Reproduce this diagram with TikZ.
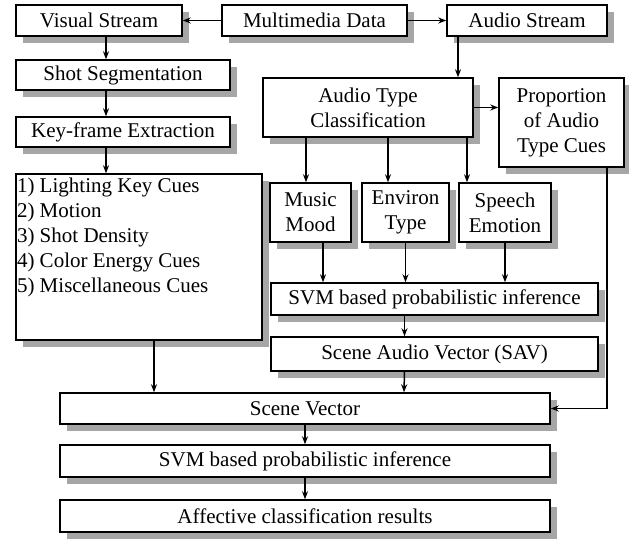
\documentclass[tikz,border=0pt]{standalone}
\usepackage{fontspec}
\setmainfont{Liberation Serif}
\usepackage{tikz}
\usetikzlibrary{arrows.meta}

\begin{document}
\begin{tikzpicture}[x=1pt, y=-1pt, line width=1.5pt,
    every node/.style={font=\fontsize{21}{25}\selectfont},
    blk/.style={draw, fill=white, inner sep=1pt, align=center},
    boxshadow/.style={draw=black!35, line width=7pt, line cap=butt},
    arr/.style={-{Stealth[length=8pt, width=6pt]}}]
    \useasboundingbox (0,0) rectangle (629,538);
    % shadows first (right and bottom strips), boxes on top
    \foreach \cx/\cy/\w/\h in {99/20.5/166/31, 314.5/20.5/185/31, 527/20.5/160/31,
        123/75/214/30, 123/132/214/30, 139/257/246/166, 368/107.5/210/59, 561.5/122.5/125/89,
        310.5/212.5/81/59, 405.5/212.5/87/59, 505/212.5/92/59, 434.5/299/327/32, 434.5/354/327/34,
        305/408.5/490/31, 305/461/490/32, 305/516/490/32}
      \draw[boxshadow] (\cx+\w/2+3.5, \cy-\h/2+7) -- (\cx+\w/2+3.5, \cy+\h/2+3.5) -- (\cx-\w/2+7, \cy+\h/2+3.5);
    % top row
    \node[blk, minimum width=166pt, minimum height=31pt] (vis) at (99,20.5) {Visual Stream};
    \node[blk, minimum width=185pt, minimum height=31pt] (mm) at (314.5,20.5) {Multimedia Data};
    \node[blk, minimum width=160pt, minimum height=31pt] (aud) at (527,20.5) {Audio Stream};
    % visual branch
    \node[blk, minimum width=214pt, minimum height=30pt] (shot) at (123,75) {Shot Segmentation};
    \node[blk, minimum width=214pt, minimum height=30pt] (key) at (123,132) {Key-frame Extraction};
    \node[blk, minimum width=246pt, minimum height=166pt] (cues) at (139,257) {};
    \node[anchor=north west, inner xsep=1pt, inner ysep=4pt, align=left] (cuestxt) at (cues.north west)
      {1) Lighting Key Cues\\2) Motion\\3) Shot Density\\4) Color Energy Cues\\5) Miscellaneous Cues};
    % audio branch
    \node[blk, minimum width=210pt, minimum height=59pt] (atc) at (368,107.5) {Audio Type\\Classification};
    \node[blk, minimum width=125pt, minimum height=89pt] (prop) at (561.5,122.5) {Proportion\\of Audio\\Type Cues};
    \node[blk, minimum width=81pt, minimum height=59pt] (music) at (310.5,212.5) {Music\\Mood};
    \node[blk, minimum width=87pt, minimum height=59pt] (env) at (405.5,212.5) {Environ\\Type};
    \node[blk, minimum width=92pt, minimum height=59pt] (speech) at (505,212.5) {Speech\\Emotion};
    \node[blk, minimum width=327pt, minimum height=32pt] (svma) at (434.5,299) {SVM based probabilistic inference};
    \node[blk, minimum width=327pt, minimum height=34pt] (sav) at (434.5,354) {Scene Audio Vector (SAV)};
    % fusion
    \node[blk, minimum width=490pt, minimum height=31pt] (scene) at (305,408.5) {Scene Vector};
    \node[blk, minimum width=490pt, minimum height=32pt] (svmb) at (305,461) {SVM based probabilistic inference};
    \node[blk, minimum width=490pt, minimum height=32pt] (aff) at (305,516) {Affective classification results};

    \draw[arr] (mm.west) -- (vis.east);
    \draw[arr] (mm.east) -- (aud.west);
    \draw[arr] ([xshift=7pt]vis.south) -- ([xshift=-17pt]shot.north);
    \draw[arr] ([xshift=-17pt]shot.south) -- ([xshift=-17pt]key.north);
    \draw[arr] ([xshift=-17pt]key.south) -- ([xshift=-33pt]cues.north);
    \draw[arr] ([xshift=-69pt]aud.south) -- ([xshift=90pt]atc.north);
    \draw[arr] (atc.east) -- (atc.east -| prop.west);
    \draw[arr] ([xshift=-62pt]atc.south) -- ([xshift=-4.5pt]music.north);
    \draw[arr] ([xshift=20pt]atc.south) -- ([xshift=-17.5pt]env.north);
    \draw[arr] ([xshift=99pt]atc.south) -- ([xshift=-38pt]speech.north);
    \draw[arr] ([xshift=12.5pt]music.south) -- ([xshift=-111.5pt]svma.north);
    \draw[arr] (env.south) -- (env.south |- svma.north);
    \draw[arr] (speech.south) -- (speech.south |- svma.north);
    \draw[arr] ([xshift=-30pt]svma.south) -- ([xshift=-30pt]sav.north);
    \draw[arr] ([xshift=-30pt]sav.south) -- ([xshift=99pt]scene.north);
    \draw[arr] ([xshift=15pt]cues.south) -- ([xshift=-151pt]scene.north);
    \draw[arr] ([xshift=45.5pt]prop.south) |- (scene.east);
    \draw[arr] (scene) -- (svmb);
    \draw[arr] (svmb) -- (aff);
  \end{tikzpicture}
\end{document}
